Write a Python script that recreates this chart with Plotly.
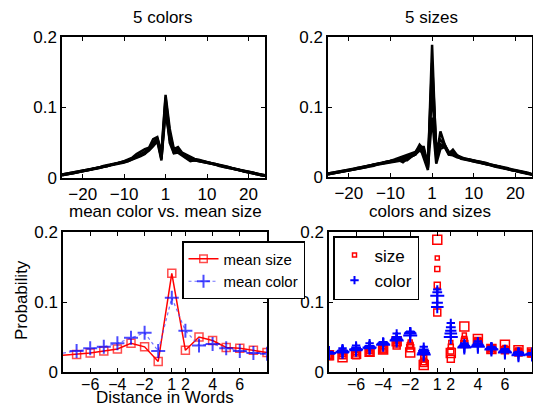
import plotly.graph_objects as go

BLACK = "#000000"
RED = "#FF0000"
BLUE = "#0000FF"
FONT = "Liberation Sans, Arial, sans-serif"
W, H = 533, 409

# distance in words, 0 is skipped
DIST_TOP = list(range(-25, 0)) + list(range(1, 26))
DIST_BOT = list(range(-8, 0)) + list(range(1, 9))

TOP_TICKVALS = [-20, -10, 0, 10, 20]
TOP_TICKTEXT = ["\u221220", "\u221210", "1", "10", "20"]
BOT_TICKVALS = [-6, -4, -2, 0, 1, 3, 5]
BOT_TICKTEXT = ["\u22126", "\u22124", "\u22122", "1", "2", "4", "6"]

# 5 colors: distances -25..-9 / -8..8 / 9..25
COLOR_LEFT = [
    [0.005, 0.006, 0.007, 0.008, 0.009, 0.011, 0.012, 0.013, 0.014, 0.015, 0.017, 0.018, 0.019, 0.021, 0.022, 0.024, 0.026],
    [0.004, 0.005, 0.006, 0.008, 0.009, 0.010, 0.011, 0.012, 0.014, 0.015, 0.016, 0.018, 0.019, 0.020, 0.022, 0.023, 0.025],
    [0.005, 0.006, 0.007, 0.008, 0.009, 0.010, 0.011, 0.012, 0.013, 0.015, 0.016, 0.017, 0.019, 0.020, 0.021, 0.023, 0.025],
    [0.004, 0.005, 0.006, 0.007, 0.008, 0.009, 0.011, 0.012, 0.013, 0.014, 0.016, 0.017, 0.018, 0.019, 0.021, 0.022, 0.024],
    [0.005, 0.005, 0.006, 0.007, 0.009, 0.010, 0.011, 0.012, 0.014, 0.015, 0.016, 0.017, 0.019, 0.020, 0.021, 0.023, 0.024],
]
COLOR_MID = [
    [0.029, 0.034, 0.038, 0.041, 0.043, 0.055, 0.058, 0.036, 0.118, 0.070, 0.041, 0.044, 0.036, 0.033, 0.029, 0.027],
    [0.028, 0.031, 0.035, 0.037, 0.042, 0.050, 0.057, 0.032, 0.114, 0.064, 0.039, 0.041, 0.035, 0.031, 0.028, 0.026],
    [0.027, 0.030, 0.033, 0.036, 0.041, 0.048, 0.056, 0.030, 0.099, 0.059, 0.037, 0.039, 0.034, 0.030, 0.027, 0.026],
    [0.026, 0.028, 0.031, 0.034, 0.040, 0.046, 0.055, 0.027, 0.093, 0.055, 0.036, 0.038, 0.033, 0.029, 0.025, 0.025],
    [0.027, 0.029, 0.032, 0.035, 0.039, 0.045, 0.052, 0.025, 0.109, 0.050, 0.035, 0.036, 0.032, 0.028, 0.024, 0.025],
]
COLOR_RIGHT = [
    [0.026, 0.024, 0.023, 0.021, 0.020, 0.019, 0.017, 0.016, 0.014, 0.013, 0.012, 0.010, 0.009, 0.008, 0.006, 0.005, 0.004],
    [0.025, 0.024, 0.022, 0.021, 0.020, 0.018, 0.017, 0.015, 0.014, 0.013, 0.011, 0.010, 0.009, 0.007, 0.006, 0.005, 0.004],
    [0.025, 0.023, 0.022, 0.021, 0.019, 0.018, 0.016, 0.015, 0.014, 0.012, 0.011, 0.010, 0.008, 0.007, 0.006, 0.004, 0.003],
    [0.024, 0.023, 0.022, 0.020, 0.019, 0.018, 0.016, 0.015, 0.013, 0.012, 0.011, 0.009, 0.008, 0.007, 0.005, 0.004, 0.003],
    [0.024, 0.023, 0.021, 0.020, 0.019, 0.017, 0.016, 0.015, 0.013, 0.012, 0.011, 0.009, 0.008, 0.007, 0.006, 0.004, 0.003],
]

# 5 sizes
SIZE_LEFT = [
    [0.005, 0.006, 0.007, 0.008, 0.009, 0.010, 0.011, 0.012, 0.014, 0.015, 0.016, 0.018, 0.019, 0.020, 0.022, 0.023, 0.025],
    [0.004, 0.005, 0.006, 0.007, 0.009, 0.010, 0.011, 0.012, 0.013, 0.015, 0.016, 0.017, 0.018, 0.020, 0.021, 0.023, 0.024],
    [0.005, 0.006, 0.006, 0.008, 0.009, 0.010, 0.011, 0.013, 0.014, 0.015, 0.016, 0.018, 0.019, 0.020, 0.022, 0.023, 0.024],
    [0.004, 0.005, 0.006, 0.007, 0.008, 0.009, 0.010, 0.012, 0.013, 0.014, 0.015, 0.016, 0.018, 0.019, 0.020, 0.022, 0.023],
    [0.004, 0.005, 0.007, 0.007, 0.008, 0.010, 0.011, 0.012, 0.013, 0.014, 0.016, 0.017, 0.018, 0.019, 0.021, 0.022, 0.023],
]
SIZE_MID = [
    [0.027, 0.030, 0.031, 0.034, 0.036, 0.043, 0.043, 0.017, 0.163, 0.042, 0.053, 0.046, 0.036, 0.035, 0.031, 0.027],
    [0.025, 0.028, 0.029, 0.032, 0.035, 0.046, 0.039, 0.014, 0.147, 0.036, 0.047, 0.044, 0.035, 0.033, 0.029, 0.027],
    [0.024, 0.026, 0.027, 0.031, 0.033, 0.040, 0.037, 0.019, 0.124, 0.030, 0.044, 0.045, 0.034, 0.032, 0.030, 0.026],
    [0.023, 0.024, 0.024, 0.029, 0.032, 0.038, 0.034, 0.013, 0.085, 0.019, 0.040, 0.043, 0.032, 0.031, 0.028, 0.027],
    [0.024, 0.021, 0.026, 0.029, 0.032, 0.044, 0.028, 0.010, 0.189, 0.027, 0.065, 0.047, 0.033, 0.039, 0.031, 0.028],
]
SIZE_RIGHT = [
    [0.026, 0.025, 0.024, 0.022, 0.021, 0.020, 0.018, 0.017, 0.015, 0.014, 0.013, 0.011, 0.010, 0.008, 0.007, 0.006, 0.004],
    [0.026, 0.024, 0.023, 0.022, 0.020, 0.019, 0.017, 0.016, 0.015, 0.013, 0.012, 0.011, 0.009, 0.008, 0.007, 0.005, 0.004],
    [0.025, 0.024, 0.023, 0.021, 0.020, 0.018, 0.017, 0.016, 0.014, 0.013, 0.012, 0.010, 0.009, 0.008, 0.006, 0.005, 0.004],
    [0.025, 0.024, 0.022, 0.021, 0.019, 0.018, 0.017, 0.015, 0.014, 0.012, 0.011, 0.010, 0.009, 0.007, 0.006, 0.005, 0.003],
    [0.026, 0.025, 0.023, 0.022, 0.021, 0.019, 0.018, 0.016, 0.015, 0.013, 0.012, 0.010, 0.009, 0.008, 0.006, 0.005, 0.004],
]

# means, distances -8..8
MEAN_SIZE = [0.024, 0.025, 0.027, 0.030, 0.033, 0.041, 0.036, 0.015, 0.141, 0.031, 0.050, 0.045, 0.035, 0.034, 0.031, 0.028]
MEAN_COLOR = [0.027, 0.030, 0.034, 0.036, 0.041, 0.049, 0.056, 0.030, 0.106, 0.059, 0.038, 0.040, 0.034, 0.030, 0.027, 0.026]

SQ_SIZES = [4, 5, 6, 7, 9]
PLUS_SIZES = [6, 7, 8, 9, 10]


def pos(dist):
    return [d if d < 0 else d - 1 for d in dist]


x_top = pos(DIST_TOP)
x_bot = pos(DIST_BOT)

fig = go.Figure()

for k in range(5):
    fig.add_trace(go.Scatter(
        x=x_top, y=COLOR_LEFT[k] + COLOR_MID[k] + COLOR_RIGHT[k],
        mode="lines", line=dict(color=BLACK, width=2.5),
        showlegend=False, xaxis="x", yaxis="y",
    ))
    fig.add_trace(go.Scatter(
        x=x_top, y=SIZE_LEFT[k] + SIZE_MID[k] + SIZE_RIGHT[k],
        mode="lines", line=dict(color=BLACK, width=2.5),
        showlegend=False, xaxis="x2", yaxis="y2",
    ))

fig.add_trace(go.Scatter(
    x=x_bot, y=MEAN_SIZE, name="mean size",
    mode="lines+markers",
    line=dict(color=RED, width=1.5),
    marker=dict(symbol="square-open", size=[0] + [8] * 15, color=RED, line=dict(width=1.5)),
    xaxis="x3", yaxis="y3", legend="legend",
))
fig.add_trace(go.Scatter(
    x=x_bot, y=MEAN_COLOR, name="mean color",
    mode="lines+markers",
    line=dict(color="rgba(80,80,255,0.8)", width=1.2, dash="dot"),
    marker=dict(symbol="cross-thin", size=[0] + [10] * 15, color=BLUE, line=dict(width=2, color=BLUE)),
    xaxis="x3", yaxis="y3", legend="legend",
))

for k in range(5):
    fig.add_trace(go.Scatter(
        x=x_bot, y=SIZE_MID[k], name="size", mode="markers",
        marker=dict(symbol="square-open", size=SQ_SIZES[k], color=RED, line=dict(width=1.5, color=RED)),
        showlegend=(k == 0), legend="legend2", legendrank=1,
        xaxis="x4", yaxis="y4",
    ))
for k in range(5):
    fig.add_trace(go.Scatter(
        x=x_bot, y=COLOR_MID[k], name="color", mode="markers",
        marker=dict(symbol="cross-thin", size=PLUS_SIZES[k], color=BLUE, line=dict(width=2, color=BLUE)),
        showlegend=(k == 0), legend="legend2", legendrank=2,
        xaxis="x4", yaxis="y4",
    ))

axis_style = dict(
    showline=True, linecolor=BLACK, linewidth=1.5, mirror="ticks",
    ticks="inside", ticklen=4, tickwidth=1, tickcolor=BLACK,
    showgrid=False, zeroline=False, automargin=False,
    tickfont=dict(size=17, color=BLACK, family=FONT),
)
yaxis_style = dict(axis_style, range=[0, 0.2], tickvals=[0, 0.1, 0.2], ticktext=["0", "0.1", "0.2"])
xbot_style = dict(axis_style, range=[-8, 7], tickvals=BOT_TICKVALS, ticktext=BOT_TICKTEXT,
                  tickfont=dict(size=16, color=BLACK, family=FONT), ticklabelstandoff=-3)


def dom(a, b, size):
    return [a / size, b / size]


fig.update_layout(
    width=W, height=H,
    margin=dict(l=0, r=0, t=0, b=0),
    paper_bgcolor="white", plot_bgcolor="white",
    font=dict(family=FONT, color=BLACK, size=17),
    xaxis=dict(axis_style, domain=dom(62, 265, W), range=[-25, 24],
               tickvals=TOP_TICKVALS, ticktext=TOP_TICKTEXT, anchor="y"),
    yaxis=dict(yaxis_style, domain=dom(H - 178, H - 37, H), anchor="x"),
    xaxis2=dict(axis_style, domain=dom(328, 532, W), range=[-25, 24],
                tickvals=TOP_TICKVALS, ticktext=TOP_TICKTEXT, anchor="y2"),
    yaxis2=dict(yaxis_style, domain=dom(H - 177, H - 37, H), anchor="x2"),
    xaxis3=dict(xbot_style, domain=dom(63, 267, W), anchor="y3"),
    yaxis3=dict(yaxis_style, domain=dom(H - 372, H - 232, H), anchor="x3"),
    xaxis4=dict(xbot_style, domain=dom(329, 532, W), anchor="y4"),
    yaxis4=dict(yaxis_style, domain=dom(H - 372, H - 232, H), anchor="x4"),
    legend=dict(
        x=182 / W, y=1 - 241 / H, xanchor="left", yanchor="top",
        bgcolor="white", bordercolor=BLACK, borderwidth=1.5,
        font=dict(size=15, family=FONT), itemwidth=30, tracegroupgap=0,
    ),
    legend2=dict(
        x=333 / W, y=1 - 236 / H, xanchor="left", yanchor="top",
        bgcolor="white", bordercolor=BLACK, borderwidth=1.5,
        font=dict(size=17, family=FONT), itemwidth=30, tracegroupgap=0,
    ),
)

labels = [
    ("5 colors", 163, 18, 0, "middle"),
    ("5 sizes", 431, 18, 0, "middle"),
    ("mean color vs. mean size", 165, 212, 0, "middle"),
    ("colors and sizes", 430, 212, 0, "middle"),
    ("Probability", 21, 300, -90, "middle"),
    ("Distance in Words", 165, 409, 0, "bottom"),
]
for text, px, py, ang, va in labels:
    fig.add_annotation(
        text=text, x=px / W, y=1 - py / H, xref="paper", yref="paper",
        xanchor="center", yanchor=va, showarrow=False, textangle=ang,
        font=dict(size=17, family=FONT, color=BLACK),
    )

# the page's default body margin would shift the figure by 8px
fig.write_html("out.html", config={"displayModeBar": False},
               post_script="document.body.style.margin='0px';")
